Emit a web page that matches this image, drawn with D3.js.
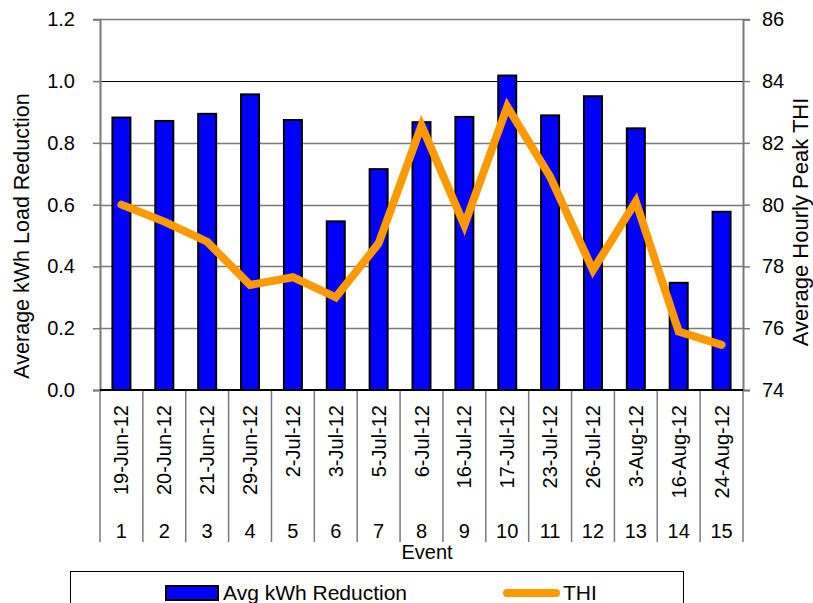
<!DOCTYPE html>
<html>
<head>
<meta charset="utf-8">
<script src="https://cdn.jsdelivr.net/npm/d3@7"></script>
<style>
  html, body { margin: 0; padding: 0; background: #fff; }
  svg { display: block; font-family: "Liberation Sans", Arial, sans-serif; }
</style>
</head>
<body>
<svg id="chart" width="813" height="603"></svg>
<script>
// Event dates, event numbers and the two series
const eventDates = ["19-Jun-12","20-Jun-12","21-Jun-12","29-Jun-12","2-Jul-12","3-Jul-12","5-Jul-12",
  "6-Jul-12","16-Jul-12","17-Jul-12","23-Jul-12","26-Jul-12","3-Aug-12","16-Aug-12","24-Aug-12"];
const eventNumbers = ["1","2","3","4","5","6","7","8","9","10","11","12","13","14","15"];
const avgKwhReduction = [0.882, 0.871, 0.894, 0.957, 0.874, 0.546, 0.715, 0.867, 0.884, 1.018, 0.889, 0.951, 0.847, 0.347, 0.577];
const thi = [80.0, 79.45, 78.8, 77.4, 77.65, 77.0, 78.75, 82.56, 79.34, 83.17, 80.91, 77.88, 80.1, 75.89, 75.46];
const leftTicks = [0, 0.2, 0.4, 0.6, 0.8, 1.0, 1.2];
const rightTicks = [74, 76, 78, 80, 82, 84, 86];

const svg = d3.select("#chart");
const plot = { left: 100, right: 743, top: 19.3, bottom: 390 };
const BLUE = "#0000ff", ORANGE = "#ff9900", GRID = "#7a7a7a";

const x = d3.scaleBand().domain(eventNumbers).range([plot.left, plot.right]).paddingInner(0).paddingOuter(0);
const yL = d3.scaleLinear().domain([0, 1.2]).range([plot.bottom, plot.top]);
const yR = d3.scaleLinear().domain([74, 86]).range([plot.bottom, plot.top]);

// Horizontal gridlines
svg.append("g").selectAll("line").data(leftTicks.slice(1))
  .join("line")
  .attr("x1", plot.left).attr("x2", plot.right)
  .attr("y1", d => Math.round(yL(d)) + 0.5).attr("y2", d => Math.round(yL(d)) + 0.5)
  .attr("stroke", d => d === 1.0 ? "#000" : GRID)
  .attr("stroke-width", d => d === 1.0 ? 1 : 1.5);

// Left axis
const leftAxis = d3.axisLeft(yL).tickValues(leftTicks).tickFormat(d3.format(".1f")).tickSize(7).tickPadding(18);
const gL = svg.append("g").attr("transform", `translate(${plot.left},0)`).call(leftAxis);
gL.select(".domain").attr("stroke", GRID).attr("stroke-width", 2);
gL.selectAll(".tick line").attr("stroke", GRID).attr("stroke-width", 1.5);
gL.selectAll(".tick text").attr("font-size", 20).attr("fill", "#000")
  .attr("font-family", "Liberation Sans, Arial, sans-serif");

// Right axis
const rightAxis = d3.axisRight(yR).tickValues(rightTicks).tickSize(7).tickPadding(12);
const gR = svg.append("g").attr("transform", `translate(${plot.right},0)`).call(rightAxis);
gR.select(".domain").attr("stroke", GRID).attr("stroke-width", 2);
gR.selectAll(".tick line").attr("stroke", GRID).attr("stroke-width", 1.5);
gR.selectAll(".tick text").attr("font-size", 20).attr("fill", "#000")
  .attr("font-family", "Liberation Sans, Arial, sans-serif");

// Category separators below the x axis
const bounds = eventNumbers.map(d => x(d)).concat([plot.right]);
svg.append("g").selectAll("line").data(bounds)
  .join("line")
  .attr("x1", d => d).attr("x2", d => d)
  .attr("y1", plot.bottom).attr("y2", 542)
  .attr("stroke", GRID).attr("stroke-width", 1.5);

// Bars
const barW = x.bandwidth() * 0.42;
svg.append("g").selectAll("rect").data(avgKwhReduction)
  .join("rect")
  .attr("x", (d, i) => x(eventNumbers[i]) + x.bandwidth() / 2 - barW / 2)
  .attr("y", d => yL(d))
  .attr("width", barW)
  .attr("height", d => yL(0) - yL(d))
  .attr("fill", BLUE).attr("stroke", "#000").attr("stroke-width", 2);

// X axis baseline
svg.append("line")
  .attr("x1", plot.left).attr("x2", plot.right)
  .attr("y1", plot.bottom).attr("y2", plot.bottom)
  .attr("stroke", "#000").attr("stroke-width", 2);

// THI line
const line = d3.line()
  .x((d, i) => x(eventNumbers[i]) + x.bandwidth() / 2)
  .y(d => yR(d));
svg.append("path").datum(thi)
  .attr("d", line)
  .attr("fill", "none").attr("stroke", ORANGE).attr("stroke-width", 8)
  .attr("stroke-linecap", "round").attr("stroke-linejoin", "miter");

// Date labels (rotated)
svg.append("g").selectAll("text").data(eventDates)
  .join("text")
  .attr("transform", (d, i) => `translate(${x(eventNumbers[i]) + x.bandwidth() / 2 + 7},405) rotate(-90)`)
  .attr("text-anchor", "end")
  .attr("font-size", 20)
  .text(d => d);

// Event numbers
svg.append("g").selectAll("text").data(eventNumbers)
  .join("text")
  .attr("x", d => x(d) + x.bandwidth() / 2)
  .attr("y", 538)
  .attr("text-anchor", "middle")
  .attr("font-size", 20)
  .text(d => d);

// Axis titles
svg.append("text").attr("x", 427).attr("y", 559).attr("text-anchor", "middle")
  .attr("font-size", 20).text("Event");
svg.append("text").attr("transform", "translate(29,236) rotate(-90)").attr("text-anchor", "middle")
  .attr("font-size", 21.5).text("Average kWh Load Reduction");
svg.append("text").attr("transform", "translate(808,222) rotate(-90)").attr("text-anchor", "middle")
  .attr("font-size", 22).text("Average Hourly Peak THI");

// Legend
const legend = svg.append("g");
legend.append("rect").attr("x", 70.5).attr("y", 571.5).attr("width", 613).attr("height", 60)
  .attr("fill", "#fff").attr("stroke", "#000").attr("stroke-width", 1);
legend.append("rect").attr("x", 166).attr("y", 586).attr("width", 52).attr("height", 14)
  .attr("fill", BLUE).attr("stroke", "#000").attr("stroke-width", 2);
legend.append("text").attr("x", 223).attr("y", 600).attr("font-size", 21).text("Avg kWh Reduction");
legend.append("line").attr("x1", 507).attr("x2", 556).attr("y1", 593).attr("y2", 593)
  .attr("stroke", ORANGE).attr("stroke-width", 8).attr("stroke-linecap", "round");
legend.append("text").attr("x", 563).attr("y", 600).attr("font-size", 21).text("THI");
</script>
</body>
</html>
